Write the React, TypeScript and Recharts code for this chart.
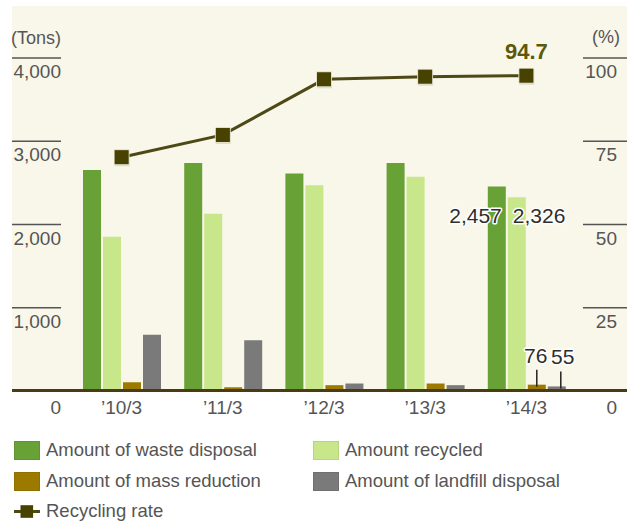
import { ComposedChart, Bar, Line, XAxis, YAxis, LabelList } from 'recharts';

const categories = ['’10/3', '’11/3', '’12/3', '’13/3', '’14/3'];
const wasteDisposal = [2654, 2739, 2614, 2739, 2457];
const recycled = [1852, 2129, 2470, 2575, 2326];
const massReduction = [105, 45, 70, 90, 76];
const landfill = [675, 611, 90, 70, 55];
const recyclingRate = [70.2, 76.9, 93.6, 94.4, 94.7];
const tonTicks = [0, 1000, 2000, 3000, 4000];
const pctTicks = [0, 25, 50, 75, 100];

const data = categories.map((cat, i) => ({
  cat,
  waste: wasteDisposal[i],
  recycled: recycled[i],
  mass: massReduction[i],
  landfill: landfill[i],
  rate: recyclingRate[i],
}));

const COLORS = {
  waste: '#68a136',
  recycled: '#c8e68a',
  mass: '#9c7a00',
  landfill: '#7a7a7a',
  rate: '#474200',
  rateLine: '#4d4916',
  cream: '#f9f7ea',
  axis: '#4a3b12',
  tick: '#555555',
};

const FONT = "'Liberation Sans', Arial, sans-serif";
const LAST = categories.length - 1;

const LeftTick = (props: any) => {
  const { y, payload } = props;
  const v = payload.value as number;
  if (v === 0) {
    return <text x={61} y={y + 23} textAnchor="end" fontSize={19} fill={COLORS.tick} fontFamily={FONT}>0</text>;
  }
  return (
    <g>
      <line x1={12} x2={61} y1={y} y2={y} stroke={COLORS.tick} strokeWidth={1.3} />
      <text x={61} y={y + 20} textAnchor="end" fontSize={19} fill={COLORS.tick} fontFamily={FONT}>
        {v.toLocaleString('en-US')}
      </text>
    </g>
  );
};

const RightTick = (props: any) => {
  const { y, payload } = props;
  const v = payload.value as number;
  if (v === 0) {
    return <text x={617} y={y + 23} textAnchor="end" fontSize={19} fill={COLORS.tick} fontFamily={FONT}>0</text>;
  }
  return (
    <g>
      <line x1={583} x2={627} y1={y} y2={y} stroke={COLORS.tick} strokeWidth={1.3} />
      <text x={617} y={y + 20} textAnchor="end" fontSize={19} fill={COLORS.tick} fontFamily={FONT}>
        {v}
      </text>
    </g>
  );
};

const XTick = (props: any) => {
  const { x, y, payload } = props;
  return (
    <text x={x} y={y + 23} textAnchor="middle" fontSize={19} fill={COLORS.tick} fontFamily={FONT}>
      {payload.value}
    </text>
  );
};

const SquareDot = (props: any) => {
  const { cx, cy, index } = props;
  return (
    <g key={`dot-${index}`}>
      <rect x={cx - 7} y={cy - 6} width={15} height={15} fill="rgba(0,0,0,0.12)" />
      <rect x={cx - 7.5} y={cy - 7.5} width={15} height={15} fill={COLORS.rate} stroke="#f4f2e0" strokeWidth={0.8} />
    </g>
  );
};

const haloText = {
  fontFamily: FONT,
  fontSize: 21,
  fill: '#2e2e2e',
  stroke: '#ffffff',
  strokeWidth: 3,
  paintOrder: 'stroke',
  strokeLinejoin: 'round',
} as any;

const RateLabel = (props: any) => {
  const { x, y, value, index } = props;
  if (index !== LAST) return null;
  return (
    <text x={x} y={y - 17} textAnchor="middle" fontSize={22} fontWeight="bold" fill="#5c5a0a" fontFamily={FONT}>
      {value}
    </text>
  );
};

const WasteLabel = (props: any) => {
  const { x, y, value, index } = props;
  if (index !== LAST) return null;
  return <text x={x + 14} y={y + 37} textAnchor="end" style={haloText}>{value.toLocaleString('en-US')}</text>;
};

const RecycledLabel = (props: any) => {
  const { x, y, value, index } = props;
  if (index !== LAST) return null;
  return <text x={x + 5} y={y + 26} textAnchor="start" style={haloText}>{value.toLocaleString('en-US')}</text>;
};

const smallLabel = (lineShift: number, textShift: number) => (props: any) => {
  const { x, y, width, value, index } = props;
  if (index !== LAST) return null;
  const cx = x + width / 2;
  return (
    <g>
      <line x1={cx + lineShift} x2={cx + lineShift} y1={y - 15} y2={y + 2} stroke="#222" strokeWidth={1.5} />
      <text x={cx + textShift} y={y - 22} textAnchor="middle" style={haloText}>{value}</text>
    </g>
  );
};

const legendItems = [
  { label: 'Amount of waste disposal', color: COLORS.waste, left: 14, cy: 450 },
  { label: 'Amount recycled', color: COLORS.recycled, left: 313, cy: 450 },
  { label: 'Amount of mass reduction', color: COLORS.mass, left: 14, cy: 481 },
  { label: 'Amount of landfill disposal', color: COLORS.landfill, left: 313, cy: 481 },
];

export default function App() {
  return (
    <div style={{ position: 'absolute', left: 0, top: 0, width: 627, height: 525, background: '#fff', fontFamily: FONT, overflow: 'hidden' }}>
      <div style={{ position: 'absolute', left: 12, top: 6, width: 615, height: 385, background: COLORS.cream }} />
      <div style={{ position: 'absolute', left: 0, top: 0 }}>
        <ComposedChart width={627} height={525} data={data} margin={{ top: 58, right: 0, bottom: 104, left: 13 }} barGap={2}>
          <XAxis dataKey="cat" axisLine={false} tickLine={false} tickSize={0} tickMargin={0} height={30} interval={0} tick={XTick} />
          <YAxis
            yAxisId="left"
            domain={[0, 4000]}
            ticks={tonTicks}
            interval={0}
            width={58}
            axisLine={false}
            tickLine={false}
            tick={LeftTick}
            label={() => (
              <text x={61} y={44} textAnchor="end" fontSize={18} fill={COLORS.tick} fontFamily={FONT}>(Tons)</text>
            )}
          />
          <YAxis
            yAxisId="right"
            orientation="right"
            domain={[0, 100]}
            ticks={pctTicks}
            interval={0}
            width={50}
            axisLine={false}
            tickLine={false}
            tick={RightTick}
            label={() => (
              <text x={620} y={43} textAnchor="end" fontSize={18} fill={COLORS.tick} fontFamily={FONT}>(%)</text>
            )}
          />
          <Bar yAxisId="left" dataKey="waste" fill={COLORS.waste} barSize={18} isAnimationActive={false}>
            <LabelList dataKey="waste" content={WasteLabel} />
          </Bar>
          <Bar yAxisId="left" dataKey="recycled" fill={COLORS.recycled} barSize={18} isAnimationActive={false}>
            <LabelList dataKey="recycled" content={RecycledLabel} />
          </Bar>
          <Bar yAxisId="left" dataKey="mass" fill={COLORS.mass} barSize={18} isAnimationActive={false}>
            <LabelList dataKey="mass" content={smallLabel(0, -1)} />
          </Bar>
          <Bar yAxisId="left" dataKey="landfill" fill={COLORS.landfill} barSize={18} isAnimationActive={false}>
            <LabelList dataKey="landfill" content={smallLabel(4, 6)} />
          </Bar>
          <Line
            yAxisId="right"
            type="linear"
            dataKey="rate"
            stroke={COLORS.rateLine}
            strokeWidth={3}
            dot={SquareDot}
            activeDot={false}
            isAnimationActive={false}
          >
            <LabelList dataKey="rate" content={RateLabel} />
          </Line>
        </ComposedChart>
      </div>
      <div style={{ position: 'absolute', left: 12, top: 389, width: 615, height: 3, background: COLORS.axis }} />
      {legendItems.map((item) => (
        <div
          key={item.label}
          style={{ position: 'absolute', left: item.left, top: item.cy - 10, height: 20, display: 'flex', alignItems: 'center' }}
        >
          <div style={{ width: 26, height: 19, background: item.color, boxShadow: 'inset 0 0 0 1px rgba(0,0,0,0.08)' }} />
          <span style={{ marginLeft: 6, fontSize: 18.5, lineHeight: '20px', color: COLORS.tick, whiteSpace: 'nowrap' }}>{item.label}</span>
        </div>
      ))}
      <div style={{ position: 'absolute', left: 14, top: 501, height: 20, display: 'flex', alignItems: 'center' }}>
        <svg width={26} height={19}>
          <line x1={0} x2={26} y1={9.5} y2={9.5} stroke={COLORS.rateLine} strokeWidth={3} />
          <rect x={6.5} y={3.2} width={12.6} height={12.6} fill={COLORS.rate} />
        </svg>
        <span style={{ marginLeft: 6, fontSize: 18.5, lineHeight: '20px', color: COLORS.tick, whiteSpace: 'nowrap' }}>Recycling rate</span>
      </div>
    </div>
  );
}
